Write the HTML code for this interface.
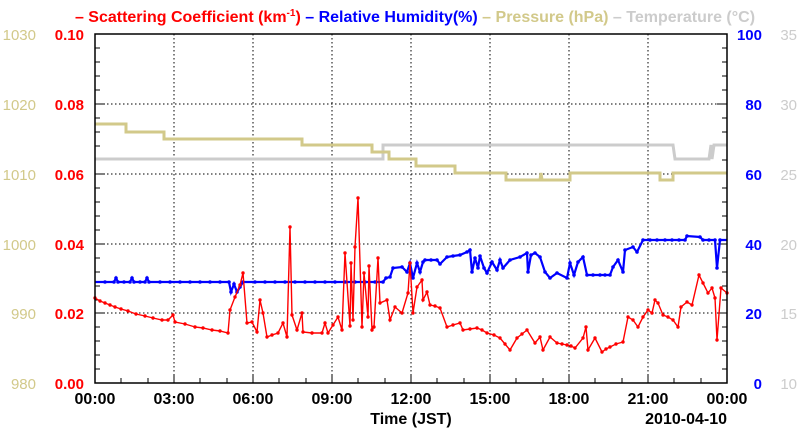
<!DOCTYPE html>
<html><head><style>
body{margin:0;background:#fff;}
svg{display:block;font-family:"Liberation Sans",sans-serif;}
</style></head><body>
<svg width="800" height="434" viewBox="0 0 800 434">
<defs>
<marker id="mr" markerWidth="4" markerHeight="4" refX="2" refY="2" markerUnits="userSpaceOnUse"><circle cx="2" cy="2" r="1.7" fill="#ff0000"/></marker>
<marker id="mb" markerWidth="4" markerHeight="4" refX="2" refY="2" markerUnits="userSpaceOnUse"><circle cx="2" cy="2" r="1.8" fill="#0000ff"/></marker>
</defs>
<g font-size="16" font-weight="bold" text-anchor="middle">
<text x="415" y="22"><tspan fill="#ff0000">– Scattering Coefficient (km<tspan font-size="10" dy="-6">-1</tspan><tspan dy="6">)</tspan></tspan> <tspan fill="#0000ff">– Relative Humidity(%)</tspan> <tspan fill="#d2c98a">– Pressure (hPa)</tspan> <tspan fill="#cccccc">– Temperature (°C)</tspan></text>
</g>
<!-- grid -->
<g stroke="#000" stroke-width="1" stroke-dasharray="1.5,2.5">
<line x1="174" y1="34" x2="174" y2="383"/><line x1="253" y1="34" x2="253" y2="383"/>
<line x1="332" y1="34" x2="332" y2="383"/><line x1="411" y1="34" x2="411" y2="383"/>
<line x1="490" y1="34" x2="490" y2="383"/><line x1="569" y1="34" x2="569" y2="383"/>
<line x1="648" y1="34" x2="648" y2="383"/>
<line x1="95" y1="104" x2="727" y2="104"/><line x1="95" y1="174" x2="727" y2="174"/>
<line x1="95" y1="244" x2="727" y2="244"/><line x1="95" y1="313" x2="727" y2="313"/>
</g>
<!-- ticks -->
<g stroke="#000" stroke-width="1">
<path d="M95 48h5M95 62h5M95 76h5M95 90h5M95 104h10M95 118h5M95 132h5M95 146h5M95 160h5M95 174h10M95 188h5M95 202h5M95 216h5M95 230h5M95 244h10M95 258h5M95 272h5M95 286h5M95 300h5M95 313h10M95 327h5M95 341h5M95 355h5M95 369h5"/>
<path d="M727 48h-5M727 62h-5M727 76h-5M727 90h-5M727 104h-10M727 118h-5M727 132h-5M727 146h-5M727 160h-5M727 174h-10M727 188h-5M727 202h-5M727 216h-5M727 230h-5M727 244h-10M727 258h-5M727 272h-5M727 286h-5M727 300h-5M727 313h-10M727 327h-5M727 341h-5M727 355h-5M727 369h-5"/>
<path d="M121 383v-5M148 383v-5M174 383v-8M200 383v-5M227 383v-5M253 383v-8M279 383v-5M306 383v-5M332 383v-8M358 383v-5M385 383v-5M411 383v-8M437 383v-5M464 383v-5M490 383v-8M516 383v-5M543 383v-5M569 383v-8M595 383v-5M622 383v-5M648 383v-8M674 383v-5M701 383v-5"/>
</g>
<!-- series -->
<polyline fill="none" stroke="#cccccc" stroke-width="3" points="95,159 383,159 383,145 673,145 675,159 709,159 711,145 712,159 714,145 727,145"/>
<polyline fill="none" stroke="#d2c98a" stroke-width="3" points="95,124 126,124 126,132 164,132 164,139 302,139 302,145 372,145 372,152 389,152 389,159 416,159 416,166 455,166 455,173 506,173 506,180 540,180 541,173 542,180 570,180 570,173 660,173 660,180 673,180 673,173 727,173"/>
<polyline fill="none" stroke="#0000ff" stroke-width="2.2" marker-mid="url(#mb)" points="95,282 105,282 114,282 116,278 118,282 124,282 130,282 132,278 134,282 140,282 145,282 147,278 149,282 160,282 170,282 180,282 190,282 200,282 210,282 220,282 229,282 231,292 234,284 237,292 240,287 243,282 255,282 265,282 275,282 285,282 295,282 305,282 315,282 325,282 335,282 345,282 355,282 365,282 375,282 383,282 386,278 390,277 393,268 402,267 407,272 410,263 413,278 417,263 420,272 423,262 425,260 431,260 437,260 440,264 447,257 453,256 460,255 467,252 470,250 472,272 475,258 478,268 480,256 484,268 487,273 492,262 497,270 500,260 503,268 510,260 520,257 527,253 528,272 531,255 535,253 540,257 545,272 550,278 557,273 567,278 570,263 574,275 578,262 583,257 587,275 593,275 600,275 605,275 610,275 613,267 618,260 623,272 625,250 633,247 637,252 643,240 650,240 657,240 665,240 672,240 679,240 685,240 687,236 700,237 703,240 709,240 715,240 717,268 720,240 727,240"/>
<polyline fill="none" stroke="#ff0000" stroke-width="1.4" marker-mid="url(#mr)" points="95,298 100,301 105,303 110,305 115,307 121,309 128,311 136,314 145,316 153,318 162,320 168,320 173,315 175,322 185,324 195,327 203,328 212,330 220,331 228,333 230,310 235,297 240,285 243,273 247,323 252,322 257,332 260,300 263,313 267,337 272,335 278,333 283,323 287,337 290,227 292,315 297,330 302,313 303,332 312,333 322,333 325,323 328,333 333,325 338,317 342,330 345,253 350,326 351,263 353,320 355,247 358,198 362,327 364,273 368,317 369,266 372,330 374,327 378,258 380,303 387,300 390,320 395,307 402,313 408,293 410,263 413,313 417,287 422,280 423,300 427,292 430,305 435,306 440,308 447,327 453,325 460,323 463,330 470,329 477,328 482,330 487,333 494,335 500,338 505,344 510,350 517,338 522,334 527,330 535,343 540,337 543,350 550,337 557,343 562,344 567,345 571,346 575,348 583,338 586,327 588,350 595,338 602,352 606,349 610,347 616,344 623,342 628,317 633,320 638,327 643,317 648,310 652,313 655,300 658,303 663,315 668,317 673,320 678,327 681,307 687,302 692,305 699,275 703,283 708,293 712,288 715,298 717,340 721,288 727,293"/>
<g fill="#ff0000"><circle cx="95" cy="298" r="1.7"/><circle cx="727" cy="293" r="1.7"/></g>
<rect x="95" y="34" width="632" height="349" fill="none" stroke="#000" stroke-width="1.5"/>
<!-- labels -->
<g font-size="15" font-weight="bold" fill="#ff0000" text-anchor="end">
<text x="84" y="40">0.10</text><text x="84" y="110">0.08</text><text x="84" y="180">0.06</text><text x="84" y="250">0.04</text><text x="84" y="319">0.02</text><text x="84" y="389">0.00</text>
</g>
<g font-size="15" fill="#d2c98a" text-anchor="end">
<text x="36" y="40">1030</text><text x="36" y="110">1020</text><text x="36" y="180">1010</text><text x="36" y="250">1000</text><text x="36" y="319">990</text><text x="36" y="389">980</text>
</g>
<g font-size="15" font-weight="bold" fill="#0000ff" text-anchor="end">
<text x="762" y="40">100</text><text x="762" y="110">80</text><text x="762" y="180">60</text><text x="762" y="250">40</text><text x="762" y="319">20</text><text x="762" y="389">0</text>
</g>
<g font-size="15" fill="#cccccc" text-anchor="end">
<text x="797" y="40">35</text><text x="797" y="110">30</text><text x="797" y="180">25</text><text x="797" y="250">20</text><text x="797" y="319">15</text><text x="797" y="389">10</text>
</g>
<g font-size="16" font-weight="bold" fill="#000" text-anchor="middle">
<text x="95" y="404">00:00</text><text x="174" y="404">03:00</text><text x="253" y="404">06:00</text><text x="332" y="404">09:00</text><text x="411" y="404">12:00</text><text x="490" y="404">15:00</text><text x="569" y="404">18:00</text><text x="648" y="404">21:00</text><text x="727" y="404">00:00</text>
<text x="411" y="424">Time (JST)</text>
<text x="727" y="424" text-anchor="end">2010-04-10</text>
</g>
</svg>
</body></html>
